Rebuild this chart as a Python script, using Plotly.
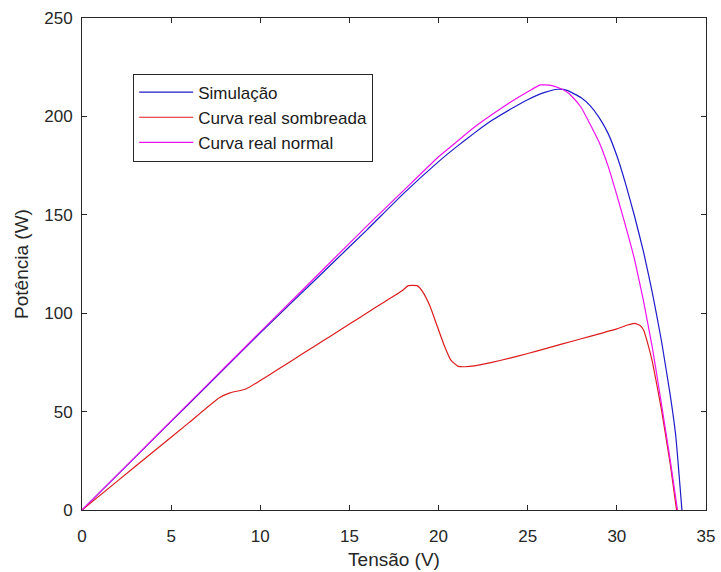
import plotly.graph_objects as go

# Curva P-V do módulo: simulação
v_sim = [0, 2, 4, 6, 8, 10, 12, 14, 16, 18, 20, 21, 22, 23, 24, 25, 26, 26.7,
         27.2, 28, 28.5, 29, 29.5, 30, 30.5, 31, 31.5, 32, 32.5, 33, 33.3, 33.65]
p_sim = [0, 18, 36, 54, 72, 90, 107.5, 125, 142.5, 160.5, 177, 184.5, 191.5, 198,
         203.5, 208.5, 212.3, 213.8, 213.2, 209.5, 205.5, 199.5, 191.5, 180, 165.5,
         149, 131, 110, 86, 58, 38, 0]

# Curva real com sombreamento parcial
v_somb = [0, 2, 4, 6, 7.7, 8.3, 9.2, 10, 11, 12, 13, 14, 15, 16, 17, 18, 18.3, 18.8,
          19.1, 19.5, 19.9, 20.3, 20.7, 21.1, 21.5, 22, 23, 24, 25, 26, 27, 28, 29,
          30, 30.6, 31, 31.3, 31.5, 31.75, 32, 32.5, 33, 33.35]
p_somb = [0, 14.8, 29.6, 44.4, 57, 59.5, 61.5, 65.8, 71.5, 77.2, 83, 88.7, 94.5, 100.2,
          106, 111.7, 114, 114, 111, 104, 94, 84, 76, 73, 72.8, 73.2, 75, 77.2, 79.5,
          82, 84.5, 87, 89.5, 92, 94, 94.8, 93.8, 91.5, 84, 75, 51, 23, 0]

# Curva real sem sombreamento
v_norm = [0, 2, 4, 6, 8, 10, 12, 14, 16, 18, 20, 21, 22, 23, 24, 25, 25.7, 26.3,
          26.8, 27.2, 27.5, 28, 28.5, 29, 29.5, 30, 30.5, 31, 31.5, 32, 32.5, 33, 33.4]
p_norm = [0, 18.1, 36.2, 54.3, 72.4, 90.5, 108.5, 126.5, 144.5, 162, 179.5, 187,
          194.5, 201, 207, 212.5, 216, 215.8, 214.3, 212.4, 210, 204.5, 196, 187, 175,
          160, 144, 127, 106, 82, 54, 25, 0]

series = [
    ("Simulação", v_sim, p_sim, "#1c1cc8"),
    ("Curva real sombreada", v_somb, p_somb, "#dc1c1c"),
    ("Curva real normal", v_norm, p_norm, "#ee10ee"),
]

FONT = "Liberation Sans, Arial, sans-serif"
TXT = "#262626"

fig = go.Figure()
for i, (name, v, p, color) in enumerate(series):
    fig.add_trace(go.Scatter(
        x=v, y=p, mode="lines", name=name, legendgroup=f"g{i}",
        line=dict(color=color, width=1.2, shape="spline", smoothing=0.4),
    ))

axis_common = dict(
    showgrid=False, zeroline=False, showline=True, linecolor=TXT, linewidth=1,
    mirror="ticks", ticks="inside", ticklen=5, tickcolor=TXT,
    tickfont=dict(family=FONT, size=17, color=TXT), automargin=False,
)

fig.update_xaxes(
    range=[0, 35], tickvals=[0, 5, 10, 15, 20, 25, 30, 35],
    ticklabelstandoff=11,
    title=dict(text="Tensão (V)", font=dict(family=FONT, size=19, color=TXT), standoff=7),
    **axis_common,
)
fig.update_yaxes(
    range=[0, 250], tickvals=[0, 50, 100, 150, 200, 250],
    ticklabelstandoff=5,
    title=dict(text="Potência (W)", font=dict(family=FONT, size=19, color=TXT), standoff=10),
    **axis_common,
)

fig.update_layout(
    width=721, height=572,
    margin=dict(l=82, r=15, t=18, b=62),
    paper_bgcolor="white", plot_bgcolor="white",
    legend=dict(
        x=0.082, y=0.887, xanchor="left", yanchor="top",
        bgcolor="white", bordercolor=TXT, borderwidth=1,
        font=dict(family=FONT, size=17, color="#1a1a1a"),
        tracegroupgap=0, traceorder="grouped", itemwidth=54,
    ),
)

fig.write_html("out.html")
